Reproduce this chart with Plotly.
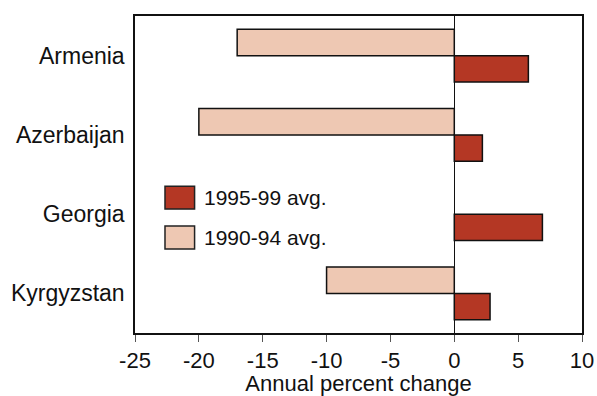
import plotly.graph_objects as go

countries = ["Armenia", "Azerbaijan", "Georgia", "Kyrgyzstan"]
avg_1990_94 = [-17.0, -20.0, None, -10.0]
avg_1995_99 = [5.8, 2.2, 6.9, 2.8]
x_ticks = [-25, -20, -15, -10, -5, 0, 5, 10]

dark = "#B43724"
light = "#EEC8B3"
font = "Liberation Sans, Arial, sans-serif"

fig = go.Figure()
fig.add_trace(go.Bar(y=countries, x=avg_1990_94, orientation="h", name="1990-94 avg.",
                     marker=dict(color=light, line=dict(color="#111", width=1.5)),
                     showlegend=False))
fig.add_trace(go.Bar(y=countries, x=avg_1995_99, orientation="h", name="1995-99 avg.",
                     marker=dict(color=dark, line=dict(color="#111", width=1.5)),
                     showlegend=False))

# manual legend (large swatches)
legend_items = [("1995-99 avg.", dark, 0.4633, 0.3908), ("1990-94 avg.", light, 0.3372, 0.2647)]
for label, col, y1, y0 in legend_items:
    fig.add_shape(type="rect", xref="paper", yref="paper", x0=0.0671, x1=0.1333, y0=y0, y1=y1,
                  fillcolor=col, line=dict(color="#222", width=1.5))
    fig.add_annotation(xref="paper", yref="paper", x=0.149, y=(y0 + y1) / 2, text=label,
                       showarrow=False, xanchor="left", yanchor="middle",
                       font=dict(size=21, color="#111", family=font))

fig.update_layout(
    width=597, height=396,
    margin=dict(l=135, r=15, t=16, b=63),
    paper_bgcolor="white", plot_bgcolor="white",
    barmode="group", bargap=0.337, bargroupgap=0,
    font=dict(family=font, size=23, color="#111"),
    xaxis=dict(range=[-25, 10], tickvals=x_ticks, ticktext=[str(v) for v in x_ticks],
               showgrid=False, zeroline=True, zerolinecolor="#111", zerolinewidth=1.2,
               showline=True, linecolor="#111", linewidth=1.5, mirror=True,
               ticks="outside", ticklen=7, tickcolor="#555", tickwidth=1.2,
               automargin=False, tickfont=dict(size=22),
               title=dict(text="Annual percent change", standoff=8, font=dict(size=22))),
    yaxis=dict(categoryorder="array", categoryarray=countries, autorange="reversed",
               showgrid=False, showline=True, linecolor="#111", linewidth=1.5, mirror=True,
               ticks="", ticklabelstandoff=4, automargin=False),
)

fig.write_html("out.html", config={"displayModeBar": False},
               post_script="document.body.style.margin='0';document.body.style.overflow='hidden';")
